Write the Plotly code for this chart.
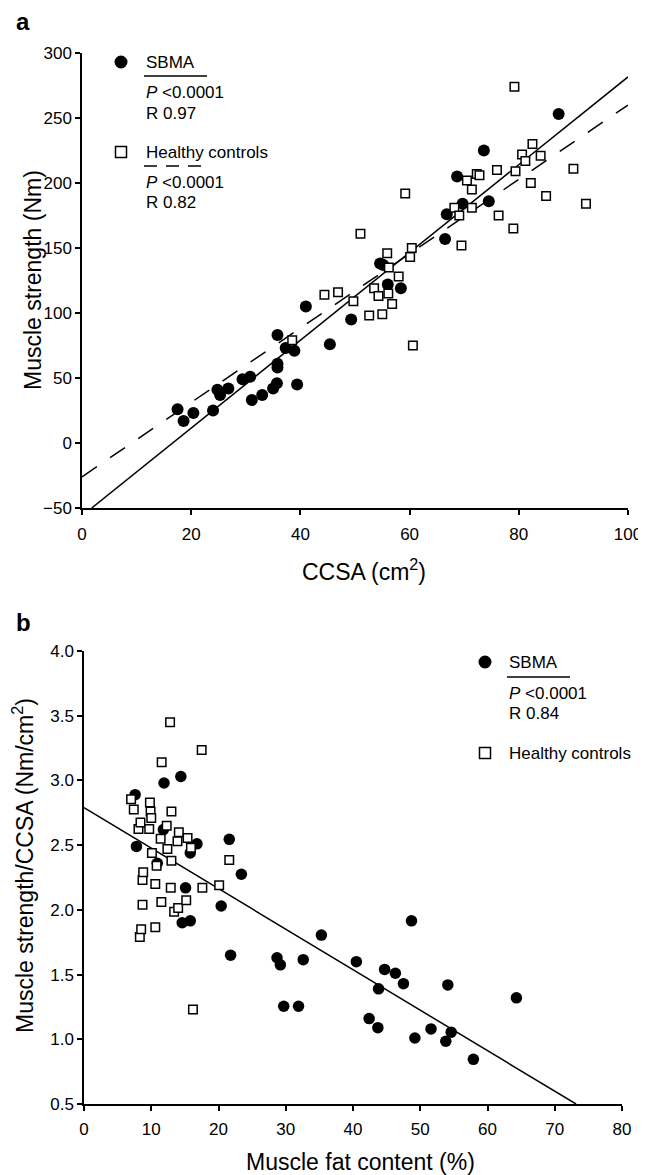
import plotly.graph_objects as go

# The page body has an 8 px margin, so the figure is drawn 8 px in from the
# window's top-left corner; all pixel positions below are window pixels.
WIN_W, WIN_H = 646, 1175
OFF = 8
W, H = WIN_W - OFF, WIN_H - OFF
FONT = "Liberation Sans, Arial, sans-serif"

# ---------------- Panel a data: CCSA (cm2) vs muscle strength (Nm) ----------------
sbma_a_ccsa = [17.5, 18.6, 20.4, 24.0, 24.8, 25.3, 26.8, 29.4, 30.8, 31.1, 33.0,
               35.0, 35.7, 35.8, 35.8, 35.8, 37.3, 38.9, 39.4, 41.0, 45.4, 49.3,
               54.6, 55.2, 56.0, 58.4, 66.5, 66.8, 68.7, 69.7, 73.6, 74.5, 87.3]
sbma_a_strength = [26, 17, 23, 25, 41, 37, 42, 49, 51, 33, 37,
                   42, 46, 58, 61, 83, 73, 71, 45, 105, 76, 95,
                   138, 137, 122, 119, 157, 176, 205, 184, 225, 186, 253]

ctrl_a_ccsa = [38.5, 44.4, 46.9, 49.7, 51.0, 52.6, 53.5, 54.3, 55.0, 55.9, 56.1,
               56.2, 56.8, 58.0, 59.2, 60.1, 60.4, 60.6, 68.2, 69.1, 69.5, 70.5,
               71.4, 71.4, 72.3, 72.8, 76.0, 76.3, 79.0, 79.2, 79.4, 80.6, 81.2,
               82.2, 82.5, 84.0, 85.0, 90.0, 92.3]
ctrl_a_strength = [79, 114, 116, 109, 161, 98, 119, 113, 99, 146, 115,
                   135, 107, 128, 192, 143, 150, 75, 181, 175, 152, 202,
                   195, 181, 207, 206, 210, 175, 165, 274, 209, 222, 217,
                   200, 230, 221, 190, 211, 184]

# regression lines (slope, intercept)
fit_a_sbma = (3.376, -56.0)
fit_a_ctrl = (2.86, -26.0)

# ---------------- Panel b data: fat content (%) vs strength/CCSA ----------------
sbma_b_fat = [7.6, 7.8, 10.9, 11.8, 11.9, 14.4, 14.6, 15.1, 15.8, 15.8, 16.8, 20.4,
              21.6, 21.8, 23.4, 28.7, 29.2, 29.7, 31.9, 32.6, 35.3, 40.5, 42.4,
              43.7, 43.8, 44.7, 46.3, 47.5, 48.7, 49.2, 51.6, 53.8, 54.1, 54.6,
              57.9, 64.3]
sbma_b_ratio = [2.89, 2.49, 2.36, 2.62, 2.98, 3.03, 1.90, 2.17, 1.915, 2.44, 2.51, 2.03,
                2.545, 1.65, 2.275, 1.63, 1.575, 1.255, 1.255, 1.615, 1.805, 1.60, 1.16,
                1.09, 1.39, 1.54, 1.51, 1.43, 1.915, 1.01, 1.08, 0.985, 1.42, 1.055,
                0.845, 1.32]

ctrl_b_fat = [7.0, 7.4, 8.1, 8.3, 8.4, 8.5, 8.7, 8.7, 8.8, 9.7, 9.8, 9.9, 10.0,
              10.1, 10.6, 10.6, 10.8, 11.4, 11.5, 11.55, 12.3, 12.4, 12.8, 12.9,
              13.0, 13.0, 13.4, 13.9, 14.0, 14.1, 15.2, 15.4, 15.9, 16.2, 17.5,
              17.6, 20.1, 21.6]
ctrl_b_ratio = [2.855, 2.775, 2.625, 1.79, 2.675, 1.85, 2.04, 2.23, 2.29, 2.625, 2.83,
                2.76, 2.71, 2.44, 1.865, 2.20, 2.34, 2.55, 2.06, 3.14, 2.65, 2.47,
                3.45, 2.17, 2.76, 2.38, 1.985, 2.53, 2.015, 2.60, 2.075, 2.555, 2.48,
                1.23, 3.235, 2.17, 2.19, 2.385]

fit_b_sbma = (-0.0313, 2.79)

# tick values
a_xticks = [0, 20, 40, 60, 80, 100]
a_yticks = [-50, 0, 50, 100, 150, 200, 250, 300]
b_xticks = [0, 10, 20, 30, 40, 50, 60, 70, 80]
b_yticks = [0.5, 1.0, 1.5, 2.0, 2.5, 3.0, 3.5, 4.0]


def PX(x):
    return (x - OFF) / W


def PY(y):
    return 1 - (y - OFF) / H


fig = go.Figure()

# --- panel a fit lines ---
m, b = fit_a_sbma
xs = (-50 - b) / m
fig.add_trace(go.Scatter(x=[xs, 100], y=[m * xs + b, m * 100 + b], mode="lines",
                         line=dict(color="black", width=1.5), xaxis="x", yaxis="y",
                         showlegend=False, hoverinfo="skip"))
m, b = fit_a_ctrl
fig.add_trace(go.Scatter(x=[0, 100], y=[b, m * 100 + b], mode="lines",
                         line=dict(color="black", width=1.5, dash="18px,16px"),
                         xaxis="x", yaxis="y", showlegend=False, hoverinfo="skip"))
# --- panel a markers ---
fig.add_trace(go.Scatter(x=sbma_a_ccsa, y=sbma_a_strength, mode="markers",
                         marker=dict(symbol="circle", size=12, color="black"),
                         xaxis="x", yaxis="y", showlegend=False, name="SBMA"))
fig.add_trace(go.Scatter(x=ctrl_a_ccsa, y=ctrl_a_strength, mode="markers",
                         marker=dict(symbol="square", size=8.5, color="white",
                                     line=dict(color="black", width=1.5)),
                         xaxis="x", yaxis="y", showlegend=False, name="Healthy controls"))

# --- panel b fit line ---
m, b = fit_b_sbma
xe = (0.5 - b) / m
fig.add_trace(go.Scatter(x=[0, xe], y=[b, 0.5], mode="lines",
                         line=dict(color="black", width=1.5), xaxis="x2", yaxis="y2",
                         showlegend=False, hoverinfo="skip"))
fig.add_trace(go.Scatter(x=sbma_b_fat, y=sbma_b_ratio, mode="markers",
                         marker=dict(symbol="circle", size=11.5, color="black"),
                         xaxis="x2", yaxis="y2", showlegend=False, name="SBMA"))
fig.add_trace(go.Scatter(x=ctrl_b_fat, y=ctrl_b_ratio, mode="markers",
                         marker=dict(symbol="square", size=8.5, color="white",
                                     line=dict(color="black", width=1.5)),
                         xaxis="x2", yaxis="y2", showlegend=False, name="Healthy controls"))

axis_common = dict(showgrid=False, zeroline=False, showline=True, linecolor="black",
                   linewidth=1.5, ticks="outside", ticklen=5, tickwidth=1.5,
                   tickcolor="black", tickfont=dict(family=FONT, size=17, color="black"),
                   automargin=False, fixedrange=True)

fig.update_layout(
    width=W, height=H,
    margin=dict(l=0, r=0, t=0, b=0),
    paper_bgcolor="white", plot_bgcolor="white",
    showlegend=False,
    font=dict(family=FONT, color="black"),
    xaxis=dict(domain=[PX(82), PX(628)], range=[0, 100], tickvals=a_xticks,
               anchor="y", ticklabelstandoff=5, **axis_common),
    yaxis=dict(domain=[PY(508), PY(53)], range=[-50, 300], tickvals=a_yticks,
               anchor="x", **axis_common),
    xaxis2=dict(domain=[PX(84), PX(622)], range=[0, 80], tickvals=b_xticks,
                anchor="y2", ticklabelstandoff=4, **axis_common),
    yaxis2=dict(domain=[PY(1104), PY(651)], range=[0.5, 4.0], tickvals=b_yticks,
                tickformat=".1f", anchor="x2", **axis_common),
)

ann = []
shapes = []


def text(x, y, s, size=17, xanchor="left", angle=0):
    ann.append(dict(x=PX(x), y=PY(y), xref="paper", yref="paper", text=s,
                    showarrow=False, xanchor=xanchor, yanchor="middle",
                    textangle=angle,
                    font=dict(family=FONT, size=size, color="black")))


# panel letters
text(14, 21, "<b>a</b>", size=24)
text(14, 622, "<b>b</b>", size=24)

# axis titles
text(364, 570, "CCSA (cm<sup>2</sup>)", size=23, xanchor="center")
text(361, 1162, "Muscle fat content (%)", size=23, xanchor="center")
text(33, 280, "Muscle strength (Nm)", size=23, xanchor="center", angle=-90)
text(23, 866, "Muscle strength/CCSA (Nm/cm<sup>2</sup>)", size=23, xanchor="center", angle=-90)

# legend panel a
shapes.append(dict(type="circle", xref="paper", yref="paper", x0=PX(114.5), x1=PX(127.5),
                   y0=PY(68.5), y1=PY(55.5), fillcolor="black", line=dict(color="black", width=0)))
text(144, 62, "SBMA")
shapes.append(dict(type="line", xref="paper", yref="paper", x0=PX(144), x1=PX(207),
                   y0=PY(76), y1=PY(76), line=dict(color="black", width=1.5)))
text(144, 93, "<i>P</i> &lt;0.0001")
text(144, 113, "R 0.97")
shapes.append(dict(type="rect", xref="paper", yref="paper", x0=PX(115.5), x1=PX(126.5),
                   y0=PY(157.5), y1=PY(146.5), fillcolor="white", line=dict(color="black", width=1.5)))
text(144, 152, "Healthy controls")
shapes.append(dict(type="line", xref="paper", yref="paper", x0=PX(144), x1=PX(203),
                   y0=PY(166), y1=PY(166), line=dict(color="black", width=1.5, dash="13px,9px")))
text(144, 182, "<i>P</i> &lt;0.0001")
text(144, 203, "R 0.82")

# legend panel b
shapes.append(dict(type="circle", xref="paper", yref="paper", x0=PX(478.5), x1=PX(491.5),
                   y0=PY(668.5), y1=PY(655.5), fillcolor="black", line=dict(color="black", width=0)))
text(507, 662, "SBMA")
shapes.append(dict(type="line", xref="paper", yref="paper", x0=PX(507), x1=PX(570),
                   y0=PY(677), y1=PY(677), line=dict(color="black", width=1.5)))
text(507, 693, "<i>P</i> &lt;0.0001")
text(507, 713, "R 0.84")
shapes.append(dict(type="rect", xref="paper", yref="paper", x0=PX(479.5), x1=PX(490.5),
                   y0=PY(758.5), y1=PY(747.5), fillcolor="white", line=dict(color="black", width=1.5)))
text(507, 753, "Healthy controls")

fig.update_layout(annotations=ann, shapes=shapes)

fig.write_html("out.html")
